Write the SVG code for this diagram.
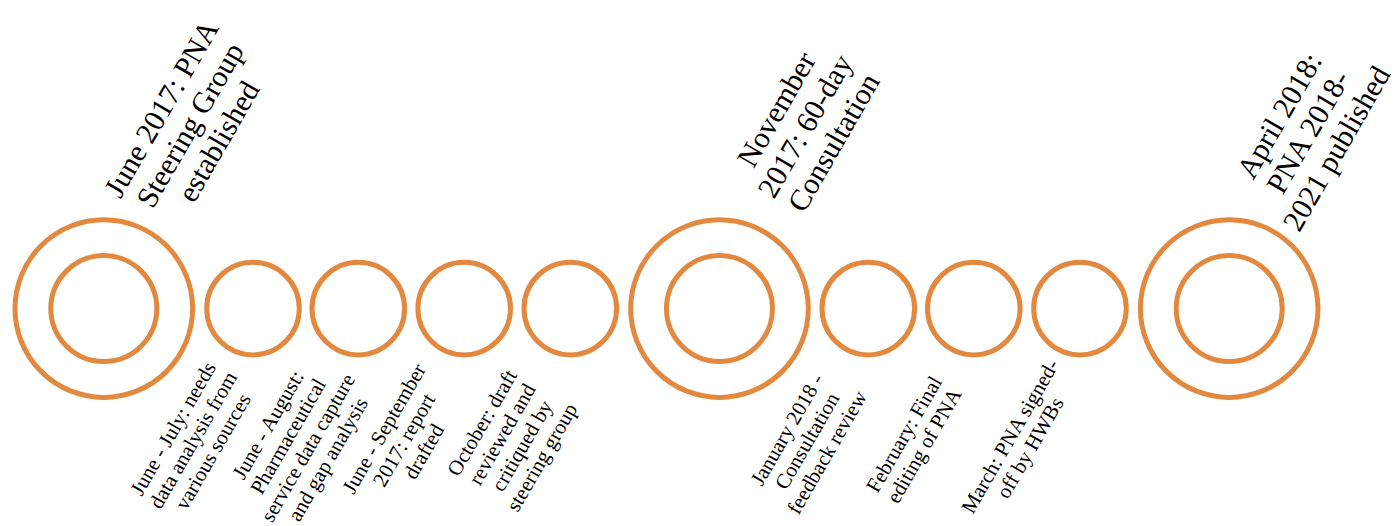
<svg xmlns="http://www.w3.org/2000/svg" width="1397" height="526" viewBox="0 0 1397 526">
<style>
.ring{fill:none;stroke:#E2893F;stroke-width:5}
.big{font-family:"Liberation Serif","DejaVu Serif",serif;font-size:30px;fill:#000;text-anchor:middle}
.small{font-family:"Liberation Serif","DejaVu Serif",serif;font-size:21px;fill:#000;text-anchor:middle}
</style>
<rect width="1397" height="526" fill="#fff"/>
<g id="milestone-june-2017">
<circle class="ring" cx="103.8" cy="308.6" r="88.8"/>
<circle class="ring" cx="103.8" cy="308.6" r="53"/>
<g transform="translate(190,125) rotate(-60)">
<text class="big"><tspan x="0" y="-23">June 2017: PNA</tspan><tspan x="0" y="10">Steering Group</tspan><tspan x="0" y="43">established</tspan></text>
</g>
</g>
<g id="step-june-july">
<circle class="ring" cx="253" cy="308.6" r="46.3"/>
<g transform="translate(193,440) rotate(-60)">
<text class="small"><tspan x="0" y="-16">June - July: needs</tspan><tspan x="0" y="7">data analysis from</tspan><tspan x="0" y="30">various sources</tspan></text>
</g>
</g>
<g id="step-june-august">
<circle class="ring" cx="358.3" cy="308.6" r="46.3"/>
<g transform="translate(298,442) rotate(-60)">
<text class="small"><tspan x="0" y="-27.5">June - August:</tspan><tspan x="0" y="-4.5">Pharmaceutical</tspan><tspan x="0" y="18.5">service data capture</tspan><tspan x="0" y="41.5">and gap analysis</tspan></text>
</g>
</g>
<g id="step-june-september">
<circle class="ring" cx="464.2" cy="308.6" r="46.3"/>
<g transform="translate(404,440) rotate(-60)">
<text class="small"><tspan x="0" y="-16">June - September</tspan><tspan x="0" y="7">2017: report</tspan><tspan x="0" y="30">drafted</tspan></text>
</g>
</g>
<g id="step-october">
<circle class="ring" cx="570.3" cy="308.6" r="46.3"/>
<g transform="translate(512,440) rotate(-60)">
<text class="small"><tspan x="0" y="-27.5">October: draft</tspan><tspan x="0" y="-4.5">reviewed and</tspan><tspan x="0" y="18.5">critiqued by</tspan><tspan x="0" y="41.5">steering group</tspan></text>
</g>
</g>
<g id="milestone-november-2017">
<circle class="ring" cx="719.5" cy="308.6" r="88.8"/>
<circle class="ring" cx="719.5" cy="308.6" r="53"/>
<g transform="translate(805,126) rotate(-60)">
<text class="big"><tspan x="0" y="-23">November</tspan><tspan x="0" y="10">2017: 60-day</tspan><tspan x="0" y="43">Consultation</tspan></text>
</g>
</g>
<g id="step-january-2018">
<circle class="ring" cx="868.3" cy="308.6" r="46.3"/>
<g transform="translate(807,441) rotate(-60)">
<text class="small"><tspan x="0" y="-16">January 2018 -</tspan><tspan x="0" y="7">Consultation</tspan><tspan x="0" y="30">feedback review</tspan></text>
</g>
</g>
<g id="step-february">
<circle class="ring" cx="973.8" cy="308.6" r="46.3"/>
<g transform="translate(914,440) rotate(-60)">
<text class="small"><tspan x="0" y="-4.5">February: Final</tspan><tspan x="0" y="18.5">editing of PNA</tspan></text>
</g>
</g>
<g id="step-march">
<circle class="ring" cx="1080" cy="308.6" r="46.3"/>
<g transform="translate(1020,442) rotate(-60)">
<text class="small"><tspan x="0" y="-4.5">March: PNA signed-</tspan><tspan x="0" y="18.5">off by HWBs</tspan></text>
</g>
</g>
<g id="milestone-april-2018">
<circle class="ring" cx="1229.2" cy="308.6" r="88.8"/>
<circle class="ring" cx="1229.2" cy="308.6" r="53"/>
<g transform="translate(1308,132) rotate(-60)">
<text class="big"><tspan x="0" y="-23">April 2018:</tspan><tspan x="0" y="10">PNA 2018-</tspan><tspan x="0" y="43">2021 published</tspan></text>
</g>
</g>
<g id="connectors"></g>
</svg>
